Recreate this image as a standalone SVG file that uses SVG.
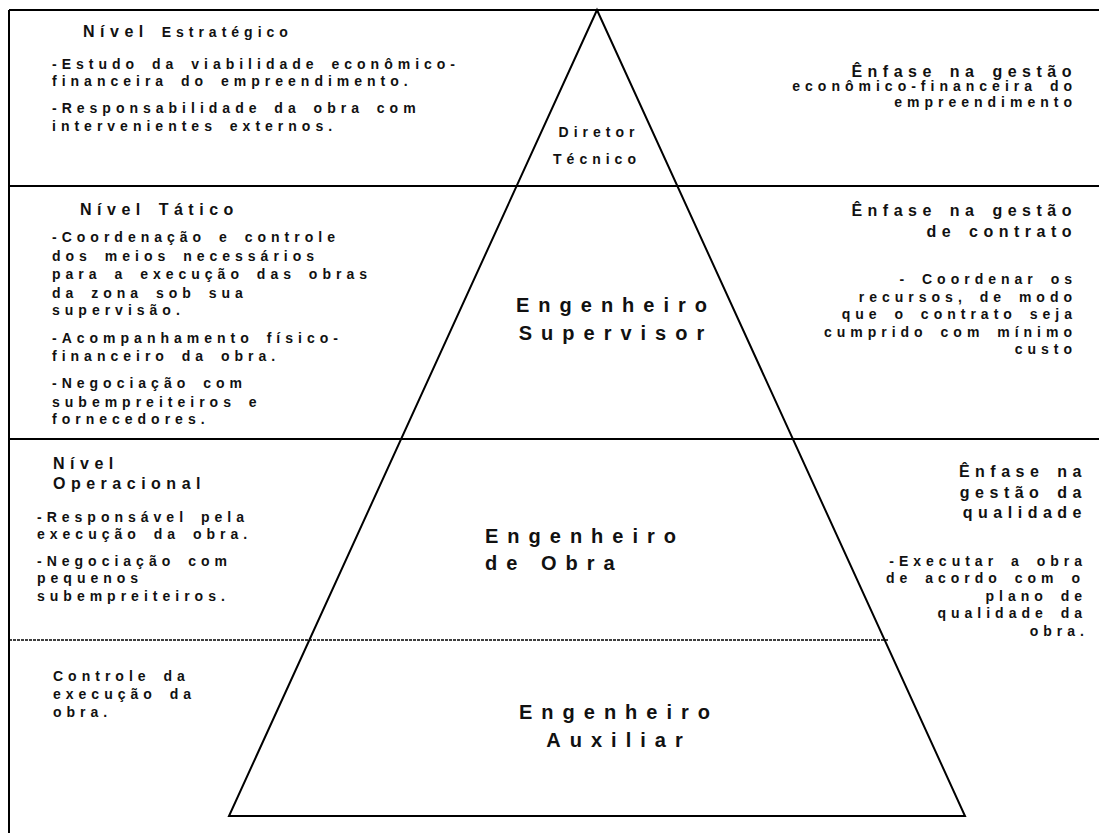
<svg xmlns="http://www.w3.org/2000/svg" width="1099" height="833" viewBox="0 0 1099 833">
  <style>
    text { font-family: "Liberation Sans", Arial, sans-serif; font-weight: bold; fill: #111; }
    .body { font-size: 14px; letter-spacing: 5px; word-spacing: 4px; }
    .head { font-size: 16px; letter-spacing: 5.5px; word-spacing: 3px; }
    .big  { font-size: 20px; letter-spacing: 9px; }
    .r { text-anchor: end; }
    .line { stroke: #000; stroke-width: 2; fill: none; }
    .dots { stroke: #000; stroke-width: 1.3; stroke-dasharray: 3 1; fill: none; }
  </style>
  <rect width="1099" height="833" fill="#fff"/>

  <!-- page frame and level separators -->
  <g id="connectors">
    <path class="line" d="M9 10H1099M9 10V833M9 186H1099M9 439H1099"/>
    <path class="dots" d="M9 640H889"/>
    <polygon class="line" points="597,10 229,816 965,816"/>
  </g>

  <!-- strategic level -->
  <g id="nivel-estrategico">
    <text class="body" x="83" y="37"><tspan class="head">Nível</tspan> Estratégico</text>
    <text class="body" x="52" y="69">-Estudo da viabilidade econômico-</text>
    <text class="body" x="52" y="86">financeira do empreendimento.</text>
    <text class="body" x="52" y="113">-Responsabilidade da obra com</text>
    <text class="body" x="52" y="131">intervenientes externos.</text>
  </g>
  <g id="enfase-estrategico">
    <text class="head r" x="1077" y="77">Ênfase na gestão</text>
    <text class="body r" x="1077" y="91">econômico-financeira do</text>
    <text class="body r" x="1077" y="107">empreendimento</text>
  </g>
  <g id="diretor-tecnico">
    <text class="body" x="599" y="137" text-anchor="middle">Diretor</text>
    <text class="body" x="597" y="164" text-anchor="middle">Técnico</text>
  </g>

  <!-- tactical level -->
  <g id="nivel-tatico">
    <text class="head" x="80" y="215">Nível Tático</text>
    <text class="body" x="52" y="242">-Coordenação e controle</text>
    <text class="body" x="52" y="261">dos meios necessários</text>
    <text class="body" x="52" y="279">para a execução das obras</text>
    <text class="body" x="52" y="298">da zona sob sua</text>
    <text class="body" x="52" y="315">supervisão.</text>
    <text class="body" x="52" y="343">-Acompanhamento físico-</text>
    <text class="body" x="52" y="361">financeiro da obra.</text>
    <text class="body" x="52" y="388">-Negociação com</text>
    <text class="body" x="52" y="407">subempreiteiros e</text>
    <text class="body" x="52" y="424">fornecedores.</text>
  </g>
  <g id="enfase-tatico">
    <text class="head r" x="1077" y="216">Ênfase na gestão</text>
    <text class="head r" x="1077" y="237">de contrato</text>
    <text class="body r" x="1077" y="284">- Coordenar os</text>
    <text class="body r" x="1077" y="302">recursos, de modo</text>
    <text class="body r" x="1077" y="319">que o contrato seja</text>
    <text class="body r" x="1077" y="337">cumprido com mínimo</text>
    <text class="body r" x="1077" y="354">custo</text>
  </g>
  <g id="engenheiro-supervisor">
    <text class="big" x="616" y="312" text-anchor="middle">Engenheiro</text>
    <text class="big" x="616" y="340" text-anchor="middle">Supervisor</text>
  </g>

  <!-- operational level -->
  <g id="nivel-operacional">
    <text class="head" x="53" y="469">Nível</text>
    <text class="head" x="53" y="489">Operacional</text>
    <text class="body" x="37" y="522">-Responsável pela</text>
    <text class="body" x="37" y="539">execução da obra.</text>
    <text class="body" x="37" y="566">-Negociação com</text>
    <text class="body" x="37" y="583">pequenos</text>
    <text class="body" x="37" y="601">subempreiteiros.</text>
  </g>
  <g id="enfase-operacional">
    <text class="head r" x="1087" y="477">Ênfase na</text>
    <text class="head r" x="1087" y="498">gestão da</text>
    <text class="head r" x="1087" y="518">qualidade</text>
    <text class="body r" x="1087" y="566">-Executar a obra</text>
    <text class="body r" x="1085" y="583">de acordo com o</text>
    <text class="body r" x="1087" y="601">plano de</text>
    <text class="body r" x="1087" y="618">qualidade da</text>
    <text class="body r" x="1089" y="636">obra.</text>
  </g>
  <g id="engenheiro-obra">
    <text class="big" x="485" y="543">Engenheiro</text>
    <text class="big" x="485" y="570">de Obra</text>
  </g>

  <!-- site control -->
  <g id="controle-execucao">
    <text class="body" x="53" y="681">Controle da</text>
    <text class="body" x="53" y="699">execução da</text>
    <text class="body" x="53" y="717">obra.</text>
  </g>
  <g id="engenheiro-auxiliar">
    <text class="big" x="619" y="719" text-anchor="middle">Engenheiro</text>
    <text class="big" x="619" y="747" text-anchor="middle">Auxiliar</text>
  </g>
</svg>
